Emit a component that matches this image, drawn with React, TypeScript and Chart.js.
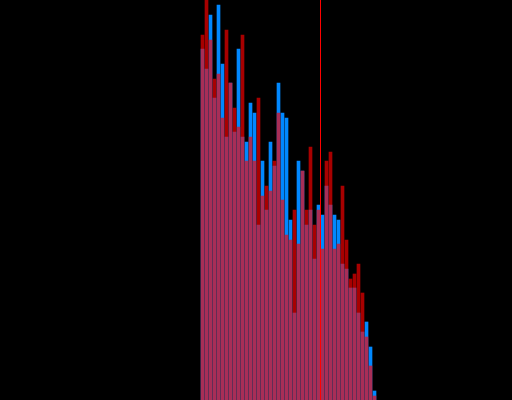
import React, { useEffect, useRef } from "react";
import { Chart, registerables } from "chart.js";

Chart.register(...registerables);

// Bin indices (histogram bins)
const bins: number[] = Array.from({ length: 44 }, (_, i) => i);

// Series A (blue) counts per bin
const blueCounts: number[] = [
  351, 331, 385, 302, 395, 336, 263, 317, 268, 351, 263, 258, 297, 287, 175,
  239, 190, 258, 234, 317, 287, 282, 180, 87, 239, 229, 175, 190, 141, 195,
  185, 214, 195, 185, 180, 136, 131, 112, 112, 87, 68, 78, 53, 9,
];

// Series B (red) counts per bin
const redCounts: number[] = [
  365, 405, 360, 321, 326, 282, 370, 317, 292, 273, 365, 239, 263, 239, 302,
  204, 214, 209, 239, 287, 200, 165, 160, 190, 156, 229, 190, 253, 175, 190,
  151, 239, 248, 151, 156, 214, 160, 121, 126, 136, 107, 63, 34, 4,
];

// Marker (vertical line) position on the bin axis
const markerValue = 29.5;

// Axis ranges
const xMin = -50.625;
const xMax = 77.375;
const yMax = 400;

const markerPlugin = {
  id: "markerLine",
  afterDatasetsDraw(chart: any) {
    const { ctx, chartArea, scales } = chart;
    const px = scales.x.getPixelForValue(markerValue);
    ctx.save();
    ctx.fillStyle = "#ff0000";
    ctx.fillRect(Math.floor(px), chartArea.top, 1, chartArea.bottom - chartArea.top);
    ctx.restore();
  },
};

export default function App() {
  const canvasRef = useRef<HTMLCanvasElement | null>(null);

  useEffect(() => {
    document.body.style.margin = "0";
    document.body.style.background = "#000";
    const canvas = canvasRef.current;
    if (!canvas) return;
    const chart = new Chart(canvas, {
      type: "bar",
      data: {
        datasets: [
          {
            label: "B",
            data: bins.map((b, i) => ({ x: b, y: redCounts[i] })),
            backgroundColor: "rgba(255,0,0,0.66)",
            borderWidth: 0,
            barThickness: 3,
            grouped: false,
            order: 0,
          } as any,
          {
            label: "A",
            data: bins.map((b, i) => ({ x: b, y: blueCounts[i] })),
            backgroundColor: "#0088ff",
            borderWidth: 0,
            barThickness: 3,
            grouped: false,
            order: 1,
          } as any,
        ],
      },
      options: {
        animation: false,
        responsive: true,
        maintainAspectRatio: false,
        layout: { padding: 0 },
        plugins: { legend: { display: false }, tooltip: { enabled: false } },
        scales: {
          x: { type: "linear", min: xMin, max: xMax, display: false, offset: false },
          y: { min: 0, max: yMax, display: false },
        },
      },
      plugins: [markerPlugin],
    });
    return () => chart.destroy();
  }, []);

  return (
    <div style={{ position: "fixed", left: 0, top: 0, width: 512, height: 400, background: "#000" }}>
      <canvas ref={canvasRef} />
    </div>
  );
}
